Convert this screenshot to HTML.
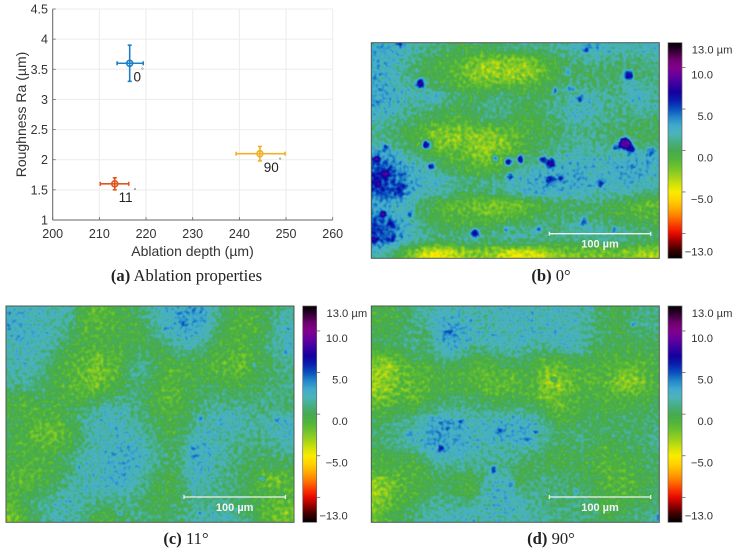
<!DOCTYPE html>
<html lang="en">
<head>
<meta charset="utf-8">
<title>Ablation properties and surface maps</title>
<style>
html,body{margin:0;padding:0;background:#fff;width:736px;height:552px;overflow:hidden}
#figure{position:absolute;left:0;top:0;display:block}
.sans{font-family:"Liberation Sans",sans-serif}
.serif{font-family:"Liberation Serif",serif}
</style>
</head>
<body>
<svg id="figure" width="736" height="552" viewBox="0 0 736 552" xmlns="http://www.w3.org/2000/svg">
  <defs id="defs"></defs>
  <rect width="736" height="552" fill="#fff"/>
  <g id="scatter"></g>
  <g id="maps"></g>
  <text class="serif" x="186.5" y="281" text-anchor="middle" font-size="16.6" fill="#222"><tspan font-weight="bold">(a)</tspan> Ablation properties</text>
  <text class="serif" x="551" y="281" text-anchor="middle" font-size="16.6" fill="#222"><tspan font-weight="bold">(b)</tspan> 0°</text>
  <text class="serif" x="186" y="544" text-anchor="middle" font-size="16.6" fill="#222"><tspan font-weight="bold">(c)</tspan> 11°</text>
  <text class="serif" x="551" y="544" text-anchor="middle" font-size="16.6" fill="#222"><tspan font-weight="bold">(d)</tspan> 90°</text>
</svg>
<script>
/* ---------- scatter data ---------- */
const angleLabels = ['0', '11', '90'];
const seriesColors = ['#1f7fc4', '#e0561f', '#efb224'];
const depthValues = [216.5, 213.3, 244.4];
const depthLow = [213.8, 210.2, 239.3];
const depthHigh = [219.4, 216.3, 249.8];
const roughValues = [3.6, 1.6, 2.1];
const roughLow = [3.3, 1.5, 1.98];
const roughHigh = [3.9, 1.7, 2.22];
const xTicks = [200, 210, 220, 230, 240, 250, 260];
const yTicks = [1, 1.5, 2, 2.5, 3, 3.5, 4, 4.5];

/* ---------- colour bar ticks ---------- */
const barTicks = [10, 5, 0, -5, -10];
const barLabels = [13, 10, 5, 0, -5, -13];

/* ---------- surface height grids, um, 18 rows x 24 columns ---------- */
const heightsB = [
[3,3,2.5,2,1.5,1,0.5,0,0,0.5,0.5,1,1,1,1,1.5,2,2.5,3,2.5,2,2,2,2.5],
[3,2.5,2,1,0,-0.5,-0.5,-1,-2,-2.5,-2.5,-2.5,-2.5,-2,-1,0,0.5,1,1.5,1,1,1,1,1.5],
[3,2.5,1.5,0.5,0,-0.5,-1,-1.5,-2.5,-3.5,-3,-3,-3,-2.5,-1.5,-0.5,0,0,0.5,0.5,0.5,0,0.5,1],
[3,2.5,2,1,0.5,0,-0.5,-1,-1.5,-1.5,-1.5,-1.5,-1.5,-1,-0.5,0.5,1,1,0.5,0.5,1,2,1.5,1],
[3.5,3,2.5,2,2.5,3,1,0.5,0,0.5,1,1,0.5,0,0.5,1,1.5,2,2.5,1.5,1,2.5,3,1.5],
[3,2.5,2,1,1,0.5,0,0,0.5,1,1.5,1,0,0,1,1.5,2,2.5,2,1.5,1,1,2,1.5],
[2,1.5,1,0.5,0,-0.5,-0.5,-1,0,0.5,0.5,0,-0.5,-0.5,0,0.5,2,2,1.5,1,1,1,0.5,0.5],
[1,0.5,0,-0.5,-1.5,-2.5,-2.5,-2.5,-2.5,-2.5,-2,-1.5,-1,-0.5,0,0,1,1,1,0.5,0.5,0,0,0],
[2,1.5,0.5,-0.5,-1.5,-2,-2.5,-2,-2.5,-3,-2.5,-2,-1,0,0.5,1,1.5,1.5,1.5,1,1,1,0.5,0.5],
[4,3.5,2.5,1.5,0.5,-0.5,-1,-1,-2,-2.5,-2,-1,-0.5,0.5,1,1.5,2,2,2,2,2,2.5,3,3],
[5.5,5,3.5,2.5,2,1,0,-0.5,-1,-1.5,-1,0,1.5,2,2.5,2.5,3,3,2.5,2.5,3,3.5,3,2.5],
[6,5.5,4.5,3,2.5,2.5,2,1,1,1,1.5,2,2.5,3,3,3,3,3,2.5,2.5,2.5,3,2.5,2],
[5.5,5,4.5,3,2,2,1.5,0.5,0.5,1,1,1.5,2.5,3,3,3,2.5,2.5,2,2,2,2,1.5,1],
[3,2.5,2.5,1.5,0,-1,-1.5,-1.5,-2,-2.5,-2.5,-2.5,-2.5,-1.5,-0.5,0,0,0.5,0.5,0,-0.5,-1,-1.5,-2],
[4.5,3.5,2.5,1.5,0,-0.5,-1,-1,-1,-1.5,-1.5,-1,-0.5,0,0.5,0.5,0.5,1,0.5,0,-0.5,-0.5,-1,-1],
[5.5,5,3.5,2,1,0.5,0,0,0,0,0.5,1,1,1,1,1,1.5,2.5,2,1.5,1,1,0.5,0.5],
[5,4.5,3,2,2,1,1,2,1.5,1,1.5,2,2,2,1,1,1,1,1,1.5,1.5,1,1,0.5],
[2,1,-1,-2.5,-4.5,-5,-4.5,-3.5,-2.5,-2.5,-3.5,-4.5,-4.5,-4.5,-3.5,-2.5,-2.5,-2,-2,-2,-2,-2.5,-3,-3.5]
];
const heightsC = [
[2.5,2.5,2,2,2,1.5,-1,-1.5,-1,-0.5,0,1,2,2.5,3,3.5,3,1.5,0,-0.5,-0.5,0,1,1.5],
[3,2.5,2,2,1.5,1,-1,-1,-1,-0.5,-0.5,0.5,1.5,2.5,3,3,3,1,-0.5,-1,-1,-0.5,1.5,2],
[2.5,2.5,2.5,2,1.5,0.5,-1,-0.5,-0.5,-0.5,-0.5,-0.5,1,2,2.5,3,2,0.5,-1,-0.5,-0.5,0,1.5,2.5],
[2,2,2,2,0.5,-0.5,-0.5,-1,-0.5,-0.5,0,0,-0.5,0.5,1.5,1.5,1,-0.5,-0.5,-1,-0.5,0.5,1.5,2],
[2,2,2,1,-0.5,-1,-1,-2,-1.5,-1,0.5,1,0,-0.5,0,0,-0.5,-1,-1,-2,-1,0,1,1.5],
[1.5,2,1.5,0.5,-0.5,-1,-1.5,-2.5,-1.5,-1,1.5,1.5,0,-1,-1,-1,-0.5,-1,-1,-1.5,-0.5,0,0.5,1],
[1.5,1.5,1,0,-0.5,-1,-1.5,-2.5,-1,-0.5,0.5,0.5,-0.5,-1,-0.5,0,0,0,-0.5,-0.5,0,0.5,1,1],
[-0.5,-0.5,0,0,-0.5,-1,-1,-0.5,0,0.5,1,0.5,-0.5,-1.5,-1,0,0.5,1,0.5,0.5,0.5,1,1,1],
[-0.5,-1,-0.5,-0.5,-0.5,0,0.5,1.5,2,2,1.5,0.5,-0.5,-1,-0.5,0,1,1.5,1.5,1.5,1,1,1,0.5],
[0,-0.5,-1,-1,-1,0,1.5,2,2.5,2,1.5,1,0,-0.5,0,0.5,1.5,2.5,2.5,2,1.5,1.5,2,2.5],
[0,-0.5,-1.5,-2,-1.5,-0.5,1,2,2,2.5,2,1.5,0.5,-0.5,0,1.5,2,2,2,1.5,1.5,1.5,2,2.5],
[-0.5,-1,-1,-1.5,-1,-0.5,1,2,2,2.5,2.5,2,1,0,0.5,2.5,2.5,2,1.5,1,1,1,1.5,2],
[-0.5,-0.5,-0.5,-0.5,0,1,2,2,2.5,2.5,3,2.5,1.5,0.5,1,2.5,3,2,1.5,1,0.5,0.5,0.5,1],
[-0.5,-1,-1,-0.5,0,1,2,2,2.5,3,2.5,2,1,0,0.5,2.5,2.5,1.5,1,0.5,0,0,0,-0.5],
[-1,-1.5,-1,-0.5,0,1.5,2,2,2.5,3,2.5,1,0,-0.5,0,2.5,2,1.5,1,0.5,0,-2,-2.5,-1],
[-1,-0.5,0,0.5,1.5,2,2,2,2,2,1.5,1,0,-0.5,0,1.5,1.5,1,1,0.5,-0.5,-0.5,-0.5,-1],
[-1.5,0,1,1.5,2,2,1.5,1,0.5,1,1,0.5,-0.5,0,0.5,1,1,1,1,0.5,0,-1,-1.5,-1.5],
[-2,-1,0.5,1.5,2,1.5,1,-0.5,-0.5,0,1,1,0.5,0.5,1,1.5,2,2,2,1,0.5,-1,-2,-2]
];
const heightsD = [
[-0.5,-0.5,0,1,1.5,2,2,2,2,1.5,2,2.5,2.5,2,2,2,2,2,1,0,0,0.5,1,1],
[-0.5,-0.5,0,1,1.5,3,3,3,2,2,2,2,2,2.5,2,2.5,2,1.5,1,0,-0.5,0.5,1.5,1],
[0,0,0.5,1,-0.5,2.5,3.5,3,2.5,2,2,2,2.5,2.5,2,2.5,2.5,2,1,0.5,0,0,0.5,0.5],
[0,0,0.5,1.5,0.5,2,3,2.5,1,1.5,2,2,2,1,1.5,1.5,2.5,1.5,0.5,0,0,-0.5,0,0],
[-2,-2.5,-1.5,0,-0.5,0.5,1,0.5,-0.5,-0.5,0,0.5,0.5,0,-1,-1,-0.5,0,-0.5,-1,-1,-0.5,-1,-0.5],
[-3,-3,-1.5,-1,-1.5,-0.5,-0.5,-1,-1,-1.5,-1,-1,-0.5,-0.5,-2.5,-2,-1,-1,-1,-0.5,-1.5,-2,-1.5,-0.5],
[-3,-2.5,-1.5,-1.5,-1,-0.5,-0.5,-0.5,-1,-1.5,-1.5,-1.5,-1,-0.5,-3,-3,-2,-1,-1,-1,-2.5,-3,-2,-0.5],
[-2.5,-2,-1,-2,-1,0,0,0.5,0,-0.5,-1,-0.5,-0.5,-1,-2,-1.5,-1,-0.5,-0.5,-1,-1,-1,-1,-0.5],
[-1,-1,0,-0.5,0,1,1,1,1,1,0.5,0.5,1,0,-0.5,-2,-1,-0.5,0,-0.5,-0.5,0,0,0.5],
[0,0.5,1,1,2.5,3,3,2.5,2,2,2.5,2.5,2.5,2.5,1,-0.5,-0.5,0,0,0,0.5,0.5,0.5,0.5],
[0.5,1,1.5,1.5,3,3.5,3,3,2,2.5,3,3,3,2.5,1.5,0.5,0.5,1,0.5,0.5,0.5,0.5,0.5,1],
[0.5,1,1.5,2,3,3,3,3,2.5,2,2,2,2.5,2.5,1,0.5,0.5,1,0,-0.5,0,0.5,0.5,1.5],
[-0.5,-0.5,0,-0.5,1.5,2.5,2.5,2,2,1.5,1.5,1.5,1,0.5,0,-0.5,-0.5,0,-0.5,-1,-0.5,-0.5,0,0.5],
[-0.5,-0.5,-0.5,-1,-0.5,1,1,1,1,1,1.5,1,0,0,0,0,0,0,-0.5,-1,-1,-0.5,0,0.5],
[-2.5,-2,-1,-0.5,-0.5,0,0,-0.5,-1,1.5,2.5,2,-1,1,1,1,0.5,0.5,0,-1,-1,-1,-0.5,0],
[-3,-2,-1,-1,0,0.5,0.5,-0.5,-0.5,2,2.5,2.5,1.5,1,1,1,0.5,0.5,0,-0.5,-1,-1,-0.5,0.5],
[-2.5,-1.5,-0.5,0,1,1.5,1.5,1,1.5,2,2.5,2.5,2,1.5,1,0.5,1,1,0.5,-0.5,-0.5,0,0,0.5],
[-1.5,-0.5,0,1,1.5,2,2,2.5,2,2,2,2,2,1.5,1.5,1,1,1,0.5,0,0,0.5,1,1.5]
];

/* ---------- localised pits: position along the map (um), radius (um), height (um) ---------- */
const pitsBx = [49,257,55,254,260,245,149,137,180,172,104,60,139,179,189,229,213,209,199,184,215,244,280,19,39,27,12,5,14,7,30,14,2,20,29,167,135,124,197];
const pitsBy = [41,33,102,101,107,105,117,119,121,117,191,124,134,137,136,141,179,56,46,48,6,187,109,197,171,151,172,117,131,142,144,105,197,182,1,187,187,116,29];
const pitsBr = [5,5,4.5,6,4,3.5,4,4,5,3.5,4.5,3.5,3.5,4,3,4,3.5,3,3,2.5,3,3,4,4,3,3,3,3,4,3,3,3,3,3,3,3,2.5,3,3];
const pitsBv = [7,7,7,9,7,6,7,7,7,6.5,7,6.5,6,6.5,6,5.5,5.5,7,5.5,5.5,6,5,5,6,6,7,8.5,8.5,8.5,8.5,7.5,6.5,8.5,7.5,6,5.5,5,5.5,4.5];
const pitsCx = [187,107,114,15,280,248,194,187,74,256,159,177,283,194,17,272];
const pitsCy = [142,147,207,31,46,59,112,151,162,173,23,16,23,207,50,114];
const pitsCr = [2,2,2,2,2,2,3,2,2,2,2,4,2,2,1.5,3];
const pitsCv = [6,5,5.5,5,5,5,4.5,5.5,4.5,5,4.5,4.5,5,4.5,4.5,4];
const pitsDx = [70,71,122,129,38,122,205,262,219,90,80,140,165,64,42,286,77,183,156];
const pitsDy = [142,117,164,124,128,29,186,18,2,117,117,177,125,134,135,211,27,74,132];
const pitsDr = [3,2,3,3,2.5,2,2.5,2,2,3,2.5,2,2,2,1.5,3,4,2,3];
const pitsDv = [6.5,6.5,6.5,6,6,6,5,6,5.5,5,5,6,5,5,5.5,5,4.5,4,4.5];

/* ---------- colour scale, one RGB entry per um from -13 to 13 ---------- */
const colormapStops = [
[0,0,0],[60,0,0],[150,0,0],[230,10,0],[250,60,0],[255,120,0],[255,170,0],[255,210,0],[250,235,0],
[205,225,10],[155,208,30],[110,195,45],[80,180,60],[70,170,80],[70,175,130],[75,180,185],[65,170,205],
[35,135,200],[10,80,190],[10,30,175],[20,0,160],[60,0,160],[100,0,160],[130,0,140],[110,0,110],[50,0,50],[0,0,0]
];

const NS = 'http://www.w3.org/2000/svg';
function make(tag, attrs, parent) {
  const el = document.createElementNS(NS, tag);
  for (const k in attrs) el.setAttribute(k, attrs[k]);
  if (parent) parent.appendChild(el);
  return el;
}

/* ---------- scatter chart ---------- */
const scatter = document.getElementById('scatter');
const plotLeft = 52.7, plotRight = 332.7, plotTop = 9, plotBottom = 220;
const xScale = v => plotLeft + (v - 200) / 60 * (plotRight - plotLeft);
const yScale = v => plotBottom - (v - 1) / 3.5 * (plotBottom - plotTop);

xTicks.forEach(t => {
  const g = make('line', {x1: xScale(t), x2: xScale(t), y1: plotTop, y2: plotBottom, stroke: '#ececec', 'stroke-width': 1}, scatter);
  
  
  const m = make('line', {x1: xScale(t), x2: xScale(t), y1: plotBottom, y2: plotBottom - 3, stroke: '#666', 'stroke-width': 0.8}, scatter);
  
  
  const l = make('text', {x: xScale(t), y: 238, 'text-anchor': 'middle', 'font-size': 12.5, fill: '#333', class: 'sans'}, scatter);
  
  
  l.textContent = t;
});
yTicks.forEach(t => {
  const g = make('line', {x1: plotLeft, x2: plotRight, y1: yScale(t), y2: yScale(t), stroke: '#ececec', 'stroke-width': 1}, scatter);
  
  
  const m = make('line', {x1: plotLeft, x2: plotLeft + 3, y1: yScale(t), y2: yScale(t), stroke: '#666', 'stroke-width': 0.8}, scatter);
  
  
  const l = make('text', {x: 48, y: yScale(t) + 4.5, 'text-anchor': 'end', 'font-size': 12.5, fill: '#333', class: 'sans'}, scatter);
  
  
  l.textContent = t;
});
const axisY = make('line', {x1: plotLeft, x2: plotLeft, y1: plotTop, y2: plotBottom, stroke: '#666', 'stroke-width': 1}, scatter);


const axisX = make('line', {x1: plotLeft, x2: plotRight, y1: plotBottom, y2: plotBottom, stroke: '#666', 'stroke-width': 1}, scatter);



const xTitle = make('text', {x: 192.5, y: 256, 'text-anchor': 'middle', 'font-size': 14, fill: '#333', class: 'sans'}, scatter);


xTitle.textContent = 'Ablation depth (µm)';
const yTitle = make('text', {x: 0, y: 0, 'text-anchor': 'middle', 'font-size': 14, fill: '#333', class: 'sans', transform: 'translate(26,114.5) rotate(-90)'}, scatter);


yTitle.textContent = 'Roughness Ra (µm)';

angleLabels.forEach((name, i) => {
  const c = seriesColors[i];
  const g = make('g', {stroke: c, 'stroke-width': 1.6, fill: 'none'}, scatter);
  
  
  const cx = xScale(depthValues[i]), cy = yScale(roughValues[i]);
  const xl = xScale(depthLow[i]), xh = xScale(depthHigh[i]);
  const yl = yScale(roughLow[i]), yh = yScale(roughHigh[i]);
  make('line', {x1: xl, x2: xh, y1: cy, y2: cy}, g);
  make('line', {x1: xl, x2: xl, y1: cy - 2, y2: cy + 2}, g);
  make('line', {x1: xh, x2: xh, y1: cy - 2, y2: cy + 2}, g);
  make('line', {x1: cx, x2: cx, y1: yl, y2: yh}, g);
  make('line', {x1: cx - 2, x2: cx + 2, y1: yl, y2: yl}, g);
  make('line', {x1: cx - 2, x2: cx + 2, y1: yh, y2: yh}, g);
  make('circle', {cx: cx, cy: cy, r: 3}, g);
  const tx = cx + 3.8;
  const t = make('text', {x: tx, y: cy + 18.3, 'font-size': 13.5, fill: '#222', class: 'sans'}, scatter);
  
  
  t.textContent = name;
  const width = name.length * 7.5;
  const d = make('text', {x: tx + width, y: cy + 9, 'font-size': 7, fill: '#444', class: 'sans'}, scatter);
  
  
  d.textContent = '°';
});

/* ---------- surface maps ---------- */
const defs = document.getElementById('defs');
const mapsRoot = document.getElementById('maps');
const grayOf = v => { const g = Math.round(255 * (v + 13) / 26); return 'rgb(' + g + ',' + g + ',' + g + ')'; };

const gradient = make('linearGradient', {id: 'bar-gradient', x1: 0, x2: 0, y1: 1, y2: 0}, defs);
colormapStops.forEach((s, i) => {
  make('stop', {offset: i / (colormapStops.length - 1), 'stop-color': 'rgb(' + s.join(',') + ')'}, gradient);
});

function drawMap(id, ox, oy, w, h, grid, px, py, pr, pv, seed) {
  const filter = make('filter', {id: 'cm-' + id, filterUnits: 'userSpaceOnUse', x: ox, y: oy, width: w, height: h, 'color-interpolation-filters': 'sRGB'}, defs);
  make('feTurbulence', {type: 'fractalNoise', baseFrequency: 0.26, numOctaves: 3, seed: seed, result: 'raw'}, filter);
  make('feColorMatrix', {in: 'raw', type: 'matrix', values: '1 0 0 0 0 1 0 0 0 0 1 0 0 0 0 0 0 0 0 1', result: 'mono'}, filter);
  make('feGaussianBlur', {in: 'mono', stdDeviation: 0.5, result: 'soft'}, filter);
  make('feComposite', {in: 'SourceGraphic', in2: 'soft', operator: 'arithmetic', k1: 0, k2: 1, k3: 0.22, k4: -0.11, result: 'sum'}, filter);
  const ct = make('feComponentTransfer', {in: 'sum'}, filter);
  ['R', 'G', 'B'].forEach((ch, n) => {
    make('feFunc' + ch, {type: 'table', tableValues: colormapStops.map(s => (s[n] / 255).toFixed(3)).join(' ')}, ct);
  });
  const blurCells = make('filter', {id: 'blur-cells-' + id, filterUnits: 'userSpaceOnUse', x: ox - 30, y: oy - 30, width: w + 60, height: h + 60, 'color-interpolation-filters': 'sRGB'}, defs);
  make('feGaussianBlur', {stdDeviation: 5}, blurCells);
  const blurPits = make('filter', {id: 'blur-pits-' + id, filterUnits: 'userSpaceOnUse', x: ox - 30, y: oy - 30, width: w + 60, height: h + 60, 'color-interpolation-filters': 'sRGB'}, defs);
  make('feGaussianBlur', {stdDeviation: 1.5}, blurPits);

  const panel = make('g', {filter: 'url(#cm-' + id + ')'}, mapsRoot);
  
  
  const rows = grid.length, cols = grid[0].length;
  const mx = u => ox + u / 288 * w;
  const my = u => oy + u / 216 * h;
  const cw = w / cols, ch = h / rows;
  const cells = make('g', {filter: 'url(#blur-cells-' + id + ')'}, panel);
  grid.forEach((row, r) => row.forEach((v, c) => {
    const left = c === 0 ? ox - 30 : ox + c * cw;
    const right = c === cols - 1 ? ox + w + 30 : ox + (c + 1) * cw;
    const top = r === 0 ? oy - 30 : oy + r * ch;
    const bottom = r === rows - 1 ? oy + h + 30 : oy + (r + 1) * ch;
    const cell = make('rect', {x: left, y: top, width: right - left + 0.5, height: bottom - top + 0.5, fill: grayOf(v)}, cells);
    
    
  }));
  const pits = make('g', {filter: 'url(#blur-pits-' + id + ')'}, panel);
  px.forEach((x, i) => {
    const pit = make('circle', {cx: mx(x), cy: my(py[i]), r: pr[i], fill: grayOf(pv[i])}, pits);
    
    
  });

  const frame = make('rect', {x: ox, y: oy, width: w, height: h, fill: 'none', stroke: '#4a5a50', 'stroke-width': 1}, mapsRoot);
  
  

  const sx1 = ox + 178, sx2 = ox + 279.4, sy = oy + 191;
  const bar = make('g', {stroke: '#eef4ee', 'stroke-width': 1.3}, mapsRoot);
  
  
  make('line', {x1: sx1, x2: sx2, y1: sy, y2: sy}, bar);
  make('line', {x1: sx1, x2: sx1, y1: sy - 2, y2: sy + 2}, bar);
  make('line', {x1: sx2, x2: sx2, y1: sy - 2, y2: sy + 2}, bar);
  const st = make('text', {x: (sx1 + sx2) / 2, y: sy + 14, 'text-anchor': 'middle', 'font-size': 11, 'font-weight': 'bold', fill: '#f2f6f2', class: 'sans'}, mapsRoot);
  
  
  st.textContent = '100 µm';

  const bx = ox + 296.7, bw = 14;
  const cb = v => oy + (13 - v) / 26 * h;
  const colorbar = make('rect', {x: bx, y: oy, width: bw, height: h, fill: 'url(#bar-gradient)', stroke: '#666', 'stroke-width': 0.7}, mapsRoot);
  
  
  barTicks.forEach(t => {
    const tk = make('line', {x1: bx + bw, x2: bx + bw + 3.5, y1: cb(t), y2: cb(t), stroke: '#666', 'stroke-width': 0.8}, mapsRoot);
    
    
  });
  barLabels.forEach((v, i) => {
    const isTop = i === 0;
    const isBottom = i === barLabels.length - 1;
    const ty = cb(v) + (isBottom ? -2.8 : 10.8);
    const txt = (v < 0 ? '\u2212' : '') + Math.abs(v).toFixed(1) + (isTop ? ' µm' : '');
    const lab = make('text', {x: isTop ? ox + 320.5 : ox + 341.7, y: ty, 'text-anchor': isTop ? 'start' : 'end', 'font-size': 11.2, fill: '#333', class: 'sans'}, mapsRoot);
    
    
    lab.textContent = txt;
  });
}

drawMap('b', 371.3, 42.7, 288, 215.6, heightsB, pitsBx, pitsBy, pitsBr, pitsBv, 3);
drawMap('c', 6, 306, 288, 216.3, heightsC, pitsCx, pitsCy, pitsCr, pitsCv, 8);
drawMap('d', 371.3, 306, 288, 216.3, heightsD, pitsDx, pitsDy, pitsDr, pitsDv, 15);
</script>
</body>
</html>
